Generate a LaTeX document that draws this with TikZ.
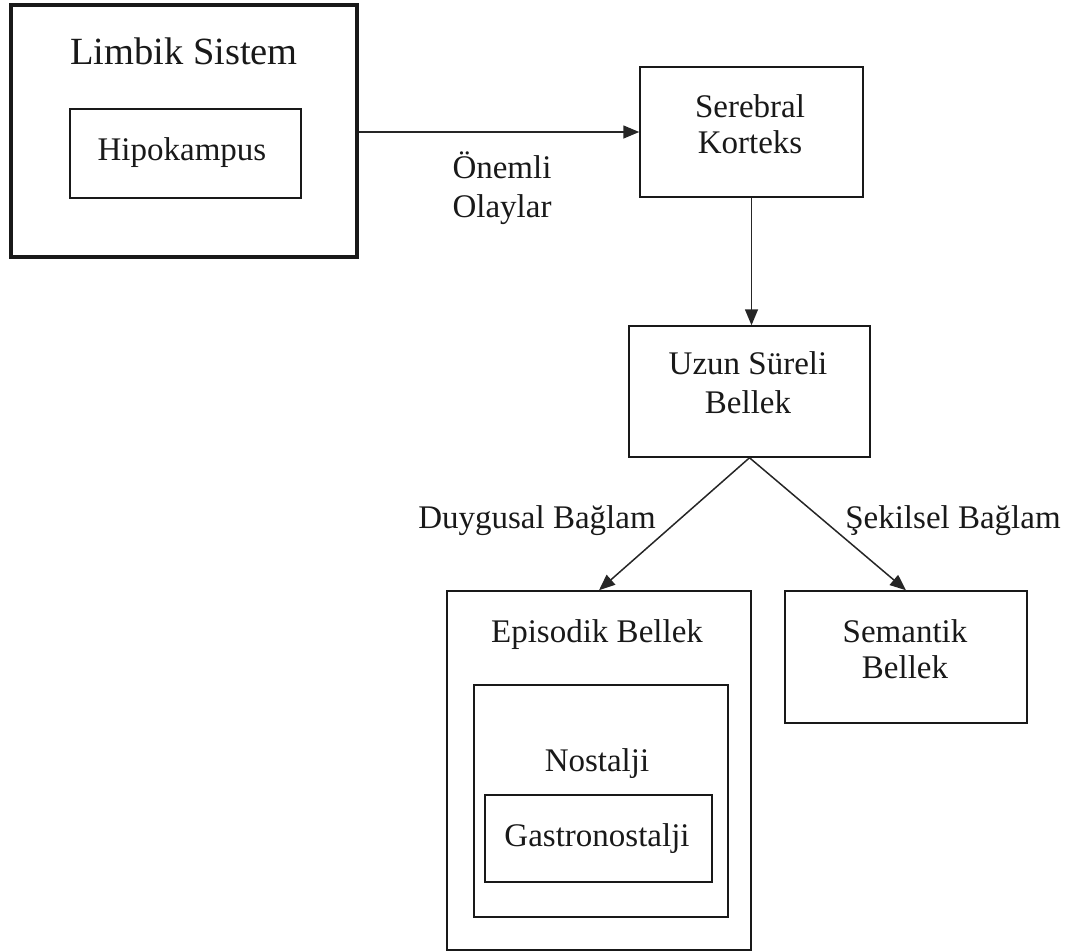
\documentclass[tikz,border=0pt]{standalone}
\usepackage{fontspec}
\setmainfont{Liberation Serif}
\usetikzlibrary{arrows.meta}
\begin{document}
\begin{tikzpicture}[x=1pt,y=-1pt,
  box/.style={draw=black!90, line width=1.5pt, rectangle, inner sep=0pt},
  thickbox/.style={draw=black!90, line width=3.5pt, rectangle, inner sep=0pt},
  lbl/.style={anchor=base, inner sep=0pt, font=\fontsize{33}{38}\selectfont, text=black!90},
  biglbl/.style={anchor=base, inner sep=0pt, font=\fontsize{38.5}{44}\selectfont, text=black!90},
  arr/.style={draw=black!85, line width=1.5pt, -{Triangle[length=16pt,width=13pt]}}]
\useasboundingbox (0,0) rectangle (1073,951);
% boxes
\node[thickbox, minimum width=346pt, minimum height=252pt] (limbik) at (184,131) {};
\node[box, minimum width=231pt, minimum height=89pt] (hipo) at (185.5,153.5) {};
\node[box, minimum width=223pt, minimum height=130pt] (serebral) at (751.5,132) {};
\node[box, minimum width=241pt, minimum height=131pt] (uzun) at (749.5,391.5) {};
\node[box, minimum width=304pt, minimum height=359pt] (episodik) at (599,770.5) {};
\node[box, minimum width=254pt, minimum height=232pt] (nostalji) at (601,801) {};
\node[box, minimum width=227pt, minimum height=87pt] (gastro) at (598.5,838.5) {};
\node[box, minimum width=242pt, minimum height=132pt] (semantik) at (906,657) {};
% texts
\node[biglbl] (tLimbik) at (184,64) {Limbik Sistem};
\node[lbl] (tHipo) at (182,160) {Hipokampus};
\node[lbl] (tSer1) at (750,117) {Serebral};
\node[lbl] (tSer2) at (750,153) {Korteks};
\node[lbl] (tOn1) at (502,178) {Önemli};
\node[lbl] (tOn2) at (502,217) {Olaylar};
\node[lbl] (tUz1) at (748,374) {Uzun Süreli};
\node[lbl] (tUz2) at (748,413) {Bellek};
\node[lbl] (tDuy) at (537,528) {Duygusal Bağlam};
\node[lbl] (tSek) at (953,528) {Şekilsel Bağlam};
\node[lbl] (tEpi) at (597,642) {Episodik Bellek};
\node[lbl] (tNos) at (597,771) {Nostalji};
\node[lbl] (tGas) at (597,846) {Gastronostalji};
\node[lbl] (tSem1) at (905,642) {Semantik};
\node[lbl] (tSem2) at (905,678) {Bellek};
% connectors
\draw[arr] (serebral.west -| limbik.east) -- (serebral.west);
\draw[arr] (serebral.south) -- (serebral.south |- uzun.north);
\draw[arr] (uzun.south) -- (episodik.north);
\draw[arr] (uzun.south) -- (semantik.north);
\end{tikzpicture}
\end{document}
